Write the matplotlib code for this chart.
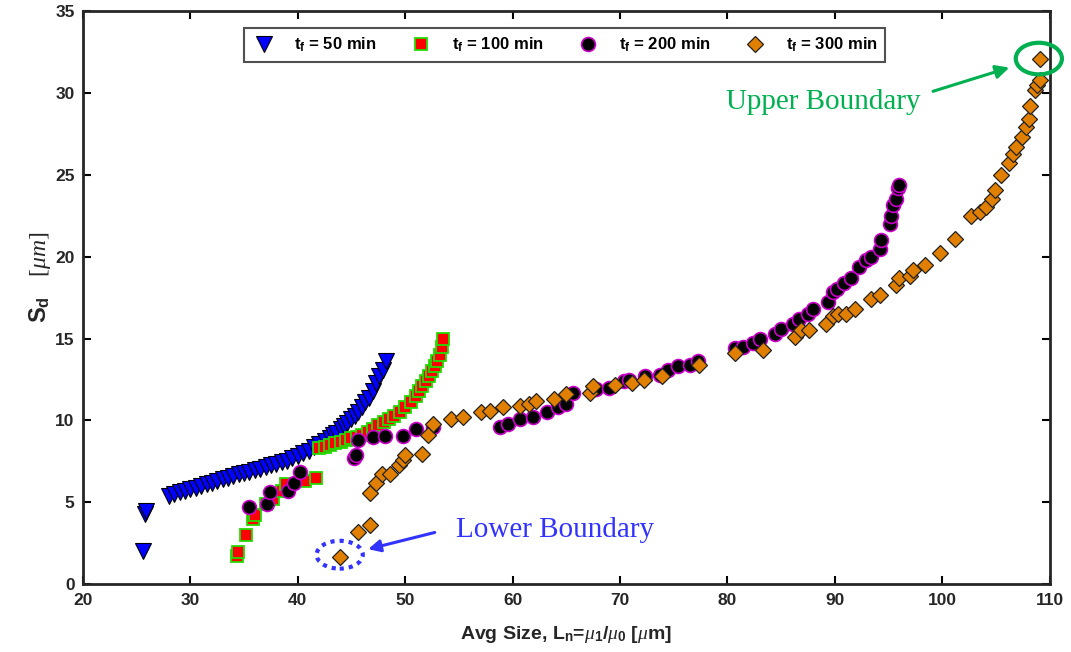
import matplotlib
matplotlib.use("Agg")
import matplotlib.pyplot as plt
from matplotlib.patches import Ellipse

plt.rcParams['font.family'] = ['Liberation Sans', 'DejaVu Sans']
plt.rcParams['mathtext.fontset'] = 'custom'
plt.rcParams['mathtext.rm'] = 'Liberation Sans:bold'
plt.rcParams['mathtext.bf'] = 'Liberation Sans:bold'
plt.rcParams['mathtext.it'] = 'Liberation Serif:italic'
plt.rcParams['mathtext.sf'] = 'Liberation Serif'

# ---- data ----
x50 = [25.6, 25.8, 25.9, 28.0, 28.5, 29.0, 29.5, 30.0, 30.5, 31.0,
       31.5, 32.0, 32.5, 33.0, 33.5, 34.0, 34.5, 35.0, 35.5, 36.0,
       36.5, 37.0, 37.5, 38.0, 38.5, 39.0, 39.5, 40.0, 40.5, 41.0,
       41.5, 42.0, 42.5, 43.0, 43.3, 43.6, 44.0, 44.3, 44.6, 45.0,
       45.3, 45.6, 46.0, 46.3, 46.6, 47.0, 47.3, 47.6, 47.9, 48.2]
y50 = [2.0, 4.3, 4.5, 5.4, 5.5, 5.6, 5.7, 5.8, 5.9, 6.0,
       6.1, 6.2, 6.3, 6.4, 6.5, 6.6, 6.7, 6.8, 6.88, 6.95,
       7.05, 7.15, 7.25, 7.35, 7.45, 7.55, 7.7, 7.85, 8.0, 8.15,
       8.4, 8.55, 8.75, 8.95, 9.1, 9.25, 9.45, 9.65, 9.85, 10.1,
       10.3, 10.5, 10.8, 11.1, 11.4, 11.8, 12.3, 12.7, 13.1, 13.6]

x100 = [34.3, 34.4, 35.2, 35.8, 36.0, 37.0, 37.7, 38.5, 38.9, 40.7,
        41.7, 42.0, 42.5, 43.0, 43.5, 44.0, 44.5, 45.0, 45.5, 46.0,
        46.5, 47.0, 47.5, 48.0, 48.5, 49.0, 49.5, 50.0, 50.5, 51.0,
        51.3, 51.6, 51.9, 52.2, 52.5, 52.8, 53.0, 53.2, 53.4, 53.5]
y100 = [1.7, 1.95, 3.0, 4.0, 4.2, 4.9, 5.2, 5.7, 6.1, 6.3,
        6.5, 8.3, 8.4, 8.5, 8.6, 8.7, 8.8, 8.9, 9.0, 9.1,
        9.3, 9.5, 9.7, 9.9, 10.1, 10.3, 10.5, 10.8, 11.1, 11.5,
        11.8, 12.1, 12.4, 12.7, 13.0, 13.3, 13.6, 14.0, 14.5, 15.0]

x200 = [35.5, 37.1, 37.4, 39.1, 39.6, 40.2, 45.2, 45.4, 45.6, 47.0,
        48.1, 49.8, 51.0, 52.6, 58.8, 59.6, 60.7, 61.9, 63.2, 64.2,
        65.0, 65.6, 67.8, 69.0, 70.4, 70.8, 72.3, 73.7, 74.5, 75.4,
        76.5, 77.3, 80.7, 81.5, 82.4, 83.0, 84.4, 85.0, 86.1, 86.7,
        87.5, 88.0, 89.4, 89.8, 90.2, 90.9, 91.5, 92.3, 92.9, 93.4,
        94.2, 94.3, 95.1, 95.2, 95.4, 95.7, 95.9, 96.0]
y200 = [4.7, 4.9, 5.6, 5.7, 6.15, 6.86, 7.7, 7.9, 8.8, 8.96,
        9.04, 9.08, 9.47, 9.6, 9.6, 9.8, 10.1, 10.2, 10.5, 10.8,
        11.0, 11.65, 11.9, 12.0, 12.4, 12.5, 12.7, 12.8, 13.1, 13.3,
        13.4, 13.6, 14.4, 14.5, 14.75, 14.95, 15.3, 15.6, 15.9, 16.2,
        16.5, 16.8, 17.25, 17.85, 18.0, 18.4, 18.7, 19.4, 19.8, 20.0,
        20.5, 21.05, 22.0, 22.5, 23.15, 23.5, 24.2, 24.4]

x300 = [43.9, 45.6, 46.7, 46.7, 47.3, 47.8, 48.6, 49.4, 49.8, 50.0,
        51.6, 52.1, 52.6, 54.3, 55.4, 57.1, 57.9, 59.1, 60.7, 61.5,
        62.2, 63.9, 65.0, 67.2, 67.5, 69.5, 71.1, 72.2, 73.9, 77.4,
        80.7, 83.3, 86.3, 86.9, 87.6, 89.2, 89.8, 90.3, 91.0, 91.9,
        93.4, 94.2, 95.7, 96.0, 97.0, 97.3, 98.4, 99.8, 101.2, 102.7,
        103.5, 104.1, 104.6, 104.9, 105.5, 106.2, 106.6, 106.9, 107.4, 107.8,
        108.1, 108.2, 108.6, 108.8, 109.1, 109.1]
y300 = [1.67, 3.2, 3.6, 5.54, 6.15, 6.76, 6.76, 7.27, 7.57, 7.88,
        7.98, 9.1, 9.8, 10.1, 10.2, 10.5, 10.6, 10.8, 10.9, 11.0,
        11.2, 11.3, 11.6, 11.65, 12.1, 12.15, 12.3, 12.45, 12.7, 13.4,
        14.1, 14.3, 15.1, 15.5, 15.5, 15.9, 16.4, 16.5, 16.5, 16.8,
        17.4, 17.65, 18.3, 18.7, 18.8, 19.2, 19.5, 20.2, 21.1, 22.5,
        22.7, 23.05, 23.5, 24.1, 25.0, 25.7, 26.3, 26.7, 27.3, 27.9,
        28.4, 29.2, 30.2, 30.5, 30.8, 32.05]

labels = [r'$\mathrm{t_f}$ = 50 min', r'$\mathrm{t_f}$ = 100 min',
          r'$\mathrm{t_f}$ = 200 min', r'$\mathrm{t_f}$ = 300 min']
xticks = [20, 30, 40, 50, 60, 70, 80, 90, 100, 110]
yticks = [0, 5, 10, 15, 20, 25, 30, 35]

# ---- figure ----
fig = plt.figure(figsize=(10.71, 6.52), dpi=100)
ax = fig.add_axes([0.0775, 0.104, 0.9025, 0.879])

ax.plot(x50, y50, linestyle='none', marker='v', ms=11, mfc='#0000ff',
        mec='black', mew=0.8, label=labels[0], clip_on=False)
ax.plot(x100, y100, linestyle='none', marker='s', ms=8.5, mfc='#ff0000',
        mec='#22dd00', mew=1.3, label=labels[1], clip_on=False)
ax.plot(x200, y200, linestyle='none', marker='o', ms=10, mfc='black',
        mec='#cc00cc', mew=1.2, label=labels[2], clip_on=False)
ax.plot(x300, y300, linestyle='none', marker='D', ms=8.5, mfc='#e07f00',
        mec='#222222', mew=0.9, label=labels[3], clip_on=False)

ax.set_xlim(20, 110)
ax.set_ylim(0, 35)
ax.set_xticks(xticks)
ax.set_yticks(yticks)
ax.tick_params(direction='in', length=6, width=1.5, top=True, right=True,
               labelsize=12.5, pad=6)
for lab in ax.get_xticklabels() + ax.get_yticklabels():
    lab.set_fontweight('bold')
    lab.set_color('#262626')
for sp in ax.spines.values():
    sp.set_linewidth(2)
    sp.set_color('#262626')

ax.set_xlabel(r'Avg Size, L$_\mathrm{n}$=$\mu_\mathrm{1}$/$\mu_\mathrm{0}$ [$\mu$m]',
              fontsize=14, fontweight='bold', color='#262626', labelpad=12)
ax.set_ylabel(r'$\mathrm{S_d}$   $\mathsf{[}\mu m\mathsf{]}$',
              fontsize=17, fontweight='bold', color='#262626')
ax.yaxis.set_label_coords(-0.031, 0.535)

leg = ax.legend(loc='upper center', bbox_to_anchor=(0.498, 0.985), ncol=4,
                frameon=True, fancybox=False, edgecolor='#262626',
                prop={'weight': 'bold', 'size': 12}, handletextpad=1.1,
                columnspacing=1.9, borderpad=0.45, handlelength=1.5)
leg.get_frame().set_linewidth(1.5)

# annotations
ax.add_patch(Ellipse((109.0, 32.1), 4.3, 1.93, fill=False,
                     edgecolor='#00b050', lw=3, zorder=5, clip_on=False))
ax.annotate('', xy=(106.5, 31.6), xytext=(98.9, 30.05),
            arrowprops=dict(arrowstyle='-|>', color='#00b050', lw=2.2,
                            mutation_scale=20))
ax.text(88.9, 29.45, 'Upper Boundary', color='#00b050', fontsize=21,
        family='Liberation Serif', ha='center', va='center')

ax.add_patch(Ellipse((43.9, 1.8), 4.3, 1.7, fill=False,
                     edgecolor='#3333ff', lw=3, linestyle=(0, (1, 1.2)), zorder=5))
ax.annotate('', xy=(46.3, 2.1), xytext=(53.0, 3.2),
            arrowprops=dict(arrowstyle='-|>', color='#3333ff', lw=2.2,
                            mutation_scale=18))
ax.text(64.0, 3.3, 'Lower Boundary', color='#3333ff', fontsize=21,
        family='Liberation Serif', ha='center', va='center')

fig.savefig('out.png', dpi=100)
